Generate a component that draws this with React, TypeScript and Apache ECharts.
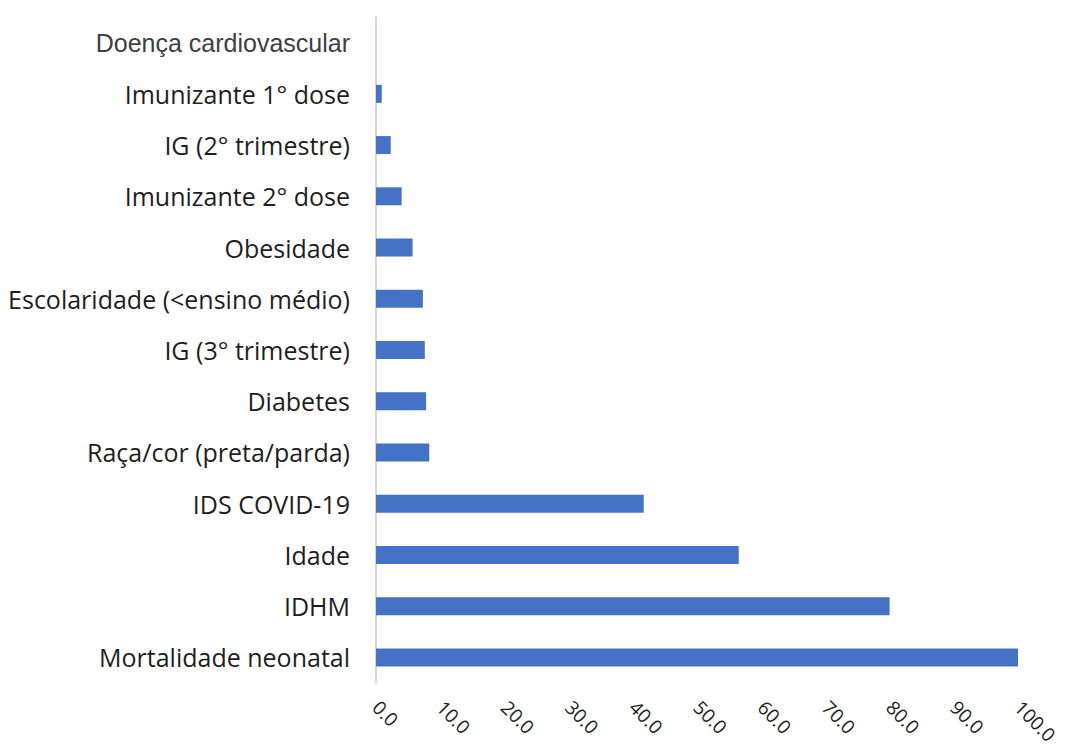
import React, { useEffect, useRef } from "react";
import * as echarts from "echarts";

// Categories listed bottom-to-top (category axis starts at the bottom)
const categories = [
  "Mortalidade neonatal",
  "IDHM",
  "Idade",
  "IDS COVID-19",
  "Raça/cor (preta/parda)",
  "Diabetes",
  "IG (3° trimestre)",
  "Escolaridade (<ensino médio)",
  "Obesidade",
  "Imunizante 2° dose",
  "IG (2° trimestre)",
  "Imunizante 1° dose",
  "Doença cardiovascular",
];

const importance = [100.0, 80.0, 56.5, 41.7, 8.3, 7.8, 7.6, 7.3, 5.7, 4.0, 2.3, 0.9, 0.0];

const xTicks = [0, 10, 20, 30, 40, 50, 60, 70, 80, 90, 100];

export default function App() {
  const ref = useRef<HTMLDivElement>(null);

  useEffect(() => {
    if (!ref.current) return;
    const chart = echarts.init(ref.current, undefined, { renderer: "svg" });
    chart.setOption({
      animation: false,
      backgroundColor: "#ffffff",
      grid: {
        left: 376,
        right: 48,
        top: 17,
        bottom: 72,
        containLabel: false,
        outerBoundsMode: "none",
      },
      xAxis: {
        type: "value",
        min: xTicks[0],
        max: xTicks[xTicks.length - 1],
        interval: 10,
        axisLine: { show: false },
        axisTick: { show: false },
        splitLine: { show: false },
        axisLabel: {
          rotate: -45,
          margin: 21,
          color: "#1e1e1e",
          fontFamily: "Open Sans",
          fontSize: 19,
          formatter: (v: number) => v.toFixed(1),
        },
      },
      yAxis: {
        type: "category",
        data: categories.map((c, i) =>
          i === categories.length - 1
            ? { value: c, textStyle: { fontFamily: "Liberation Sans", color: "#404040", fontSize: 25 } }
            : c
        ),
        axisLine: { show: true, lineStyle: { color: "#d9d9d9", width: 2 } },
        axisTick: { show: false },
        axisLabel: {
          margin: 26,
          color: "#1e1e1e",
          fontFamily: "Open Sans",
          fontSize: 25,
        },
      },
      series: [
        {
          type: "bar",
          data: importance,
          barWidth: 18,
          itemStyle: { color: "#4472C4" },
        },
      ],
    });
    return () => chart.dispose();
  }, []);

  return <div ref={ref} style={{ width: 1066, height: 755, margin: -8 }} />;
}
